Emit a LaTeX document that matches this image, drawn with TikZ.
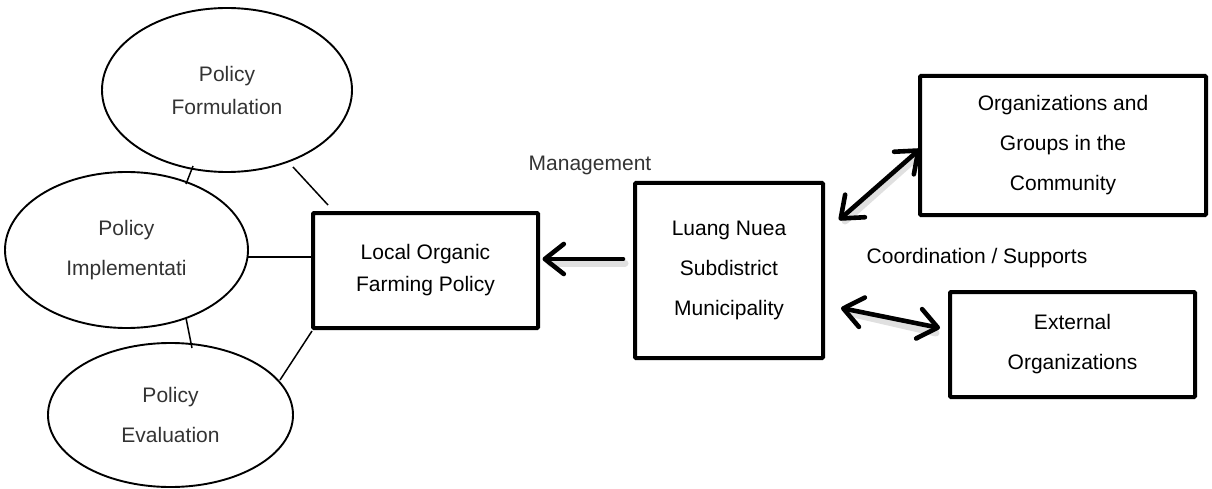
\documentclass[tikz,border=0pt]{standalone}
\usepackage{fontspec}
\setmainfont{Liberation Sans}
\usetikzlibrary{shapes.geometric,arrows.meta,calc}
\begin{document}
\begin{tikzpicture}[x=1pt,y=-1pt,
  txt/.style={font=\fontsize{21}{40}\selectfont, align=center, text=black},
  gtxt/.style={font=\fontsize{21}{40}\selectfont, align=center, text=black!80},
  ell/.style={ellipse, draw, line width=1.9pt, inner sep=0pt, gtxt},
  bbox/.style={rectangle, draw, line width=4pt, inner sep=0pt, txt, rounded corners=1pt},
  thin/.style={line width=1.5pt},
  tipA/.tip={Straight Barb[length=19pt,width=30pt,line width=4.6pt,round]},
  bigarrow/.style={line width=4.6pt, line cap=round, -tipA},
  bigdarrow/.style={line width=4.6pt, line cap=round, tipA-tipA},
  shadowline/.style={line width=7pt, draw=black, opacity=0.12, line cap=round}
]
\useasboundingbox (0,0) rectangle (1212,489);
% ellipses
\node[ell, minimum width=250pt, minimum height=164pt] (form) at (227,90) {Policy\\[-7pt]Formulation};
\node[ell, minimum width=243pt, minimum height=156pt] (imp) at (126.5,250) {Policy\\Implementati};
\node[ell, minimum width=245pt, minimum height=144pt] (eval) at (170.5,415) {Policy\\Evaluation};
% boxes
\node[bbox, minimum width=225pt, minimum height=115pt] (local) at (425.5,270.5) {Local Organic\\[-8pt]Farming Policy};
\node[bbox, minimum width=188pt, minimum height=175pt] (luang) at (729,270.5) {Luang Nuea\\Subdistrict\\Municipality};
\node[bbox, minimum width=286pt, minimum height=139pt] (org) at (1063,145.5) {Organizations and\\Groups in the\\Community};
\node[bbox, minimum width=245pt, minimum height=105pt] (ext) at (1072.5,344.5) {External\\Organizations};
% labels
\node[gtxt] (mgmt) at (590,165) {Management};
\node[txt] (coord) at (977,258) {Coordination / Supports};
% thin connectors
\draw[thin] ($(form.center)+(66,77)$) -- ($(local.center)+(-97.5,-65.5)$);
\draw[thin] ($(form.center)+(-34,76)$) -- ($(imp.center)+(59.5,-66)$);
\draw[thin] ($(imp.center)+(121.5,7)$) -- ($(local.center)+(-112.5,-13.5)$);
\draw[thin] ($(imp.center)+(59.5,68)$) -- ($(eval.center)+(21.5,-67)$);
\draw[thin] ($(eval.center)+(109.5,-35)$) -- ($(local.center)+(-113.5,60.5)$);
% arrows
\coordinate (a1s) at ($(luang.center)+(-106,-11.5)$);
\coordinate (a1e) at ($(local.center)+(117,-11.5)$);
\coordinate (a2s) at ($(luang.center)+(110,-50.5)$);
\coordinate (a2e) at ($(org.center)+(-143,3.5)$);
\coordinate (a3s) at ($(luang.center)+(112,37.5)$);
\coordinate (a3e) at ($(ext.center)+(-132.5,-16.5)$);
\draw[shadowline] ($(a1s)+(2,4)$) -- ($(a1e)+(8,4)$);
\draw[shadowline] ($(a2s)+(6,1)$) -- ($(a2e)+(-2,7)$);
\draw[shadowline] ($(a3s)+(8,5)$) -- ($(a3e)+(-4,5)$);
\draw[bigarrow] (a1s) -- (a1e);
\draw[bigdarrow] (a2s) -- (a2e);
\draw[bigdarrow] (a3s) -- (a3e);
\end{tikzpicture}
\end{document}
